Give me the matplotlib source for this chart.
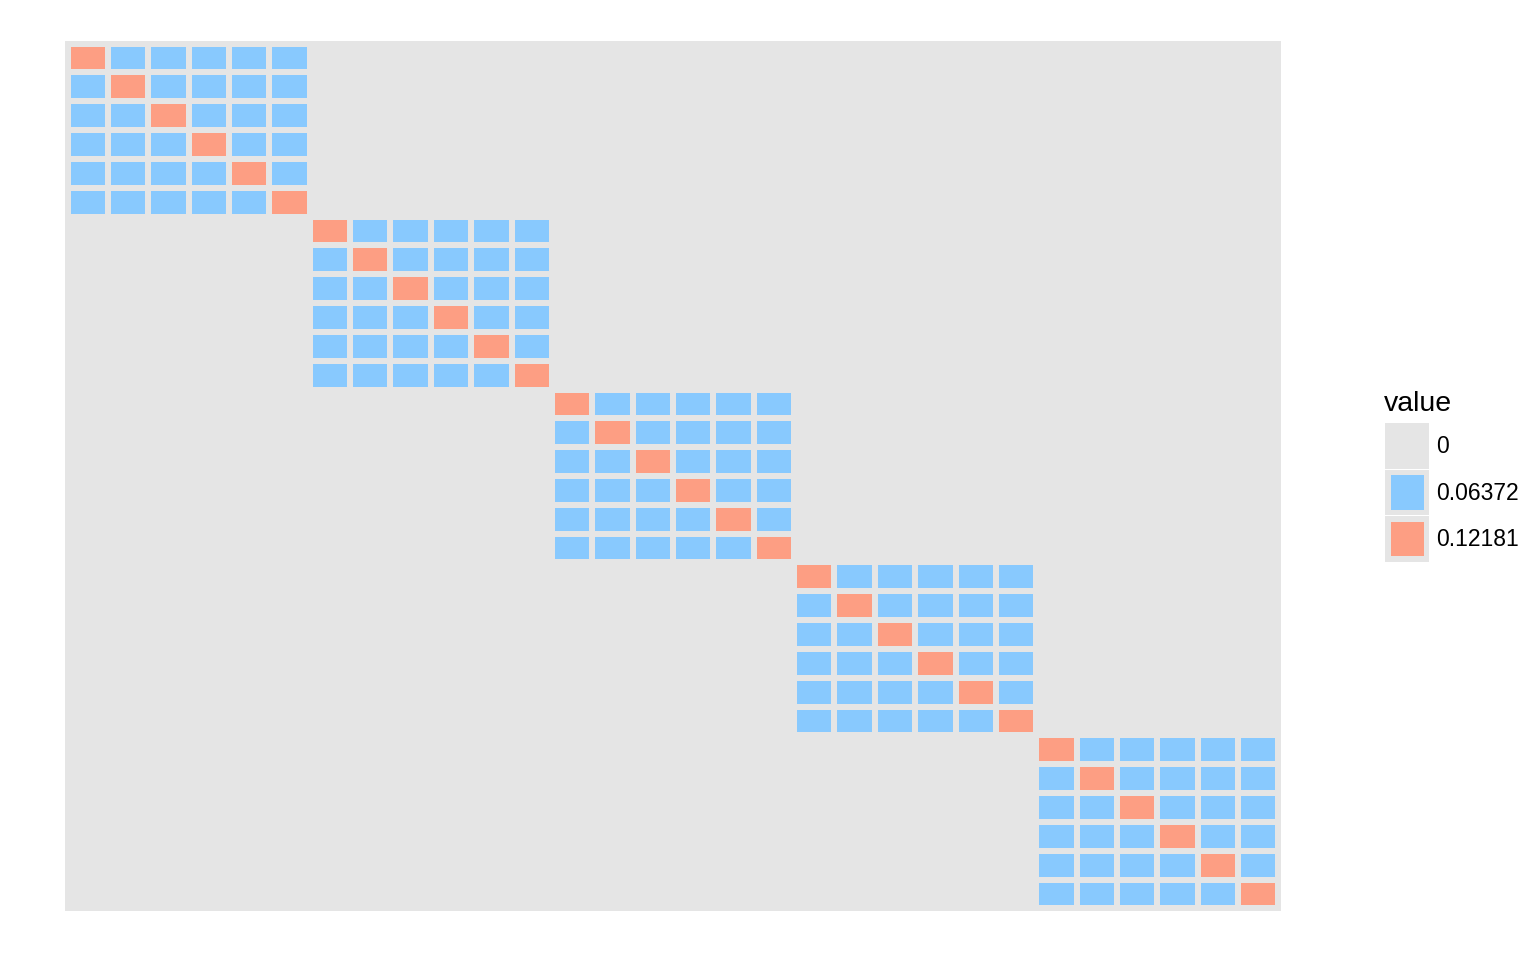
import numpy as np
import matplotlib
matplotlib.use("Agg")
import matplotlib.pyplot as plt
from matplotlib.colors import ListedColormap, BoundaryNorm
from matplotlib.patches import Rectangle

plt.rcParams['font.family'] = ['Liberation Sans', 'DejaVu Sans']

# ---- data ----
levels = [0, 0.06372, 0.12181]
level_labels = ["0", "0.06372", "0.12181"]
level_colors = ["#E5E5E5", "#88C9FE", "#FD9E83"]
n_blocks = 5
block = [
    [0.12181, 0.06372, 0.06372, 0.06372, 0.06372, 0.06372],
    [0.06372, 0.12181, 0.06372, 0.06372, 0.06372, 0.06372],
    [0.06372, 0.06372, 0.12181, 0.06372, 0.06372, 0.06372],
    [0.06372, 0.06372, 0.06372, 0.12181, 0.06372, 0.06372],
    [0.06372, 0.06372, 0.06372, 0.06372, 0.12181, 0.06372],
    [0.06372, 0.06372, 0.06372, 0.06372, 0.06372, 0.12181],
]
matrix = np.kron(np.eye(n_blocks), np.array(block))
n = matrix.shape[0]

W, H = 1536, 960
fig = plt.figure(figsize=(W / 100, H / 100), dpi=100)
grey = "#E5E5E5"

px_l, px_r, px_t, px_b = 65, 1281, 41, 911
ax = fig.add_axes([px_l / W, 1 - px_b / H, (px_r - px_l) / W, (px_b - px_t) / H])
ax.set_facecolor(grey)

# map values to category index
idx = np.zeros_like(matrix, dtype=int)
for k, v in enumerate(levels):
    idx[np.isclose(matrix, v)] = k
cmap = ListedColormap(level_colors)
norm = BoundaryNorm(np.arange(-0.5, len(levels) + 0.5, 1), cmap.N)
ax.pcolormesh(np.arange(n + 1), np.arange(n + 1), idx, cmap=cmap, norm=norm,
              edgecolors=grey, linewidth=4.0)
ax.set_xlim(-0.065, n + 0.065)
ax.set_ylim(n + 0.09, -0.09)
ax.set_xticks([])
ax.set_yticks([])
for s in ax.spines.values():
    s.set_visible(False)

# ---- legend ----
def fx(x):
    return x / W

def fy(y):
    return 1 - y / H

fig.text(fx(1384), fy(404), "value", fontsize=20.5, va='center', ha='left')
key_tops = [423, 469.5, 516]
key_h = 45.5
key_x0, key_x1 = 1385, 1429
inset = 5.5
for k in range(len(levels)):
    t = key_tops[k]
    fig.patches.append(Rectangle((fx(key_x0), fy(t + key_h)), fx(key_x1 - key_x0),
                                 key_h / H, transform=fig.transFigure,
                                 facecolor=grey, edgecolor='none'))
    fig.patches.append(Rectangle((fx(key_x0 + inset), fy(t + key_h - inset)),
                                 fx(key_x1 - key_x0 - 2 * inset),
                                 (key_h - 2 * inset) / H, transform=fig.transFigure,
                                 facecolor=level_colors[k], edgecolor='none'))
    fig.text(fx(1436), fy(t + key_h / 2 + 1), level_labels[k], fontsize=16.5,
             va='center', ha='left')

fig.savefig("out.png", dpi=100)
